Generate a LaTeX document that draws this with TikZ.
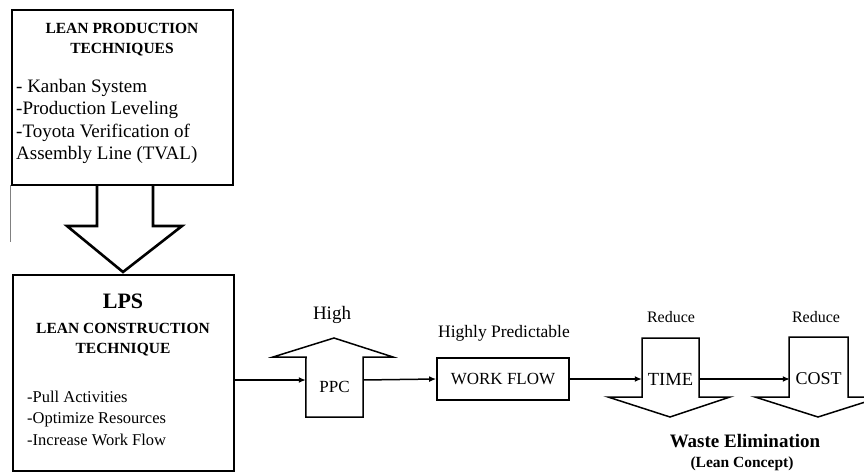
\documentclass[tikz,border=0pt]{standalone}
\usepackage{fontspec}
\setmainfont{Liberation Serif}
\usepackage{xcolor}
\usepackage{tikz}
\usetikzlibrary{arrows.meta,positioning}

\begin{document}
\begin{tikzpicture}[
  x=1pt, y=-1pt,
  bigbox/.style={draw, line width=2.6pt, inner sep=0pt},
  flowbox/.style={draw, line width=1.8pt, minimum width=132pt, minimum height=42pt,
    font=\fontsize{17}{19}\selectfont},
  shaftbox/.style={minimum width=57pt, inner sep=0pt, font=\fontsize{18.5}{20}\selectfont},
  bigarrow/.style={draw, line width=1.5pt, line join=miter},
  heading/.style={align=center, font=\bfseries\fontsize{15.5}{20}\selectfont},
  itemlist/.style={align=left, anchor=west, inner sep=0pt, font=\fontsize{16}{22}\selectfont},
  tag/.style={font=\fontsize{16}{18}\selectfont},
  arrow/.style={-{Latex[length=7pt,width=6pt]}, line width=1.5pt}
]
\useasboundingbox (0,0) rectangle (864,473);
\clip (0,0) rectangle (864,473);

% lean production box
\node (lpt) [bigbox, minimum width=221pt, minimum height=175pt] at (122.5,97.5) {};
\node (lpth) [heading] at (122,40) {LEAN PRODUCTION\\TECHNIQUES};
\node (lptl) [itemlist, font=\fontsize{19}{22.3}\selectfont] at (16,121.5)
  {- Kanban System\\-Production Leveling\\-Toyota Verification of\\Assembly Line (TVAL)};
\draw[gray, line width=1pt] (10,185) -- (10,242);

% LPS box
\node (lps) [bigbox, minimum width=221pt, minimum height=196pt] at (123.5,373) {};
\node (lpsn) [font=\bfseries\fontsize{22}{24}\selectfont] at (123,301) {LPS};
\node (lpsh) [heading] at (123,340) {LEAN CONSTRUCTION\\TECHNIQUE};
\node (lpsl) [itemlist, font=\fontsize{16.5}{21.5}\selectfont] at (27,418)
  {-Pull Activities\\-Optimize Resources\\-Increase Work Flow};

% big down arrow
\draw[bigarrow, line width=2.6pt] (97,185) -- (97,226) -- (67,226) -- (123,272)
  -- (182,226) -- (153,226) -- (153,185);

% PPC up arrow
\node (ppc) [shaftbox, minimum height=60pt, font=\fontsize{17}{19}\selectfont] at (334.5,387) {PPC};
\draw[bigarrow] (ppc.south west) -- (306,357) -- (273,357) -- (334,338)
  -- (393,357) -- (363,357) -- (ppc.south east) -- cycle;
\node (high) [tag, font=\fontsize{19}{21}\selectfont] at (332,315) {High};

% work flow
\node (wf) [flowbox] at (503,379) {WORK FLOW};
\node (pred) [tag, font=\fontsize{17.5}{19}\selectfont] at (504,333) {Highly Predictable};

% time and cost down arrows
\node (time) [shaftbox] at (670.5,379) {TIME};
\draw[bigarrow] (642,338) -- (642,397) -- (608,397) -- (670,417) -- (730,397)
  -- (699,397) -- (699,338) -- cycle;
\node (red1) [tag] at (671,317) {Reduce};

\node (cost) [shaftbox, font=\fontsize{18}{20}\selectfont] at (818.5,379) {COST};
\draw[bigarrow] (789,337) -- (789,397) -- (755,397) -- (818,417) -- (881,397)
  -- (848,397) -- (848,337) -- cycle;
\node (red2) [tag] at (816,317) {Reduce};

\node (waste) [font=\bfseries\fontsize{19}{21}\selectfont] at (745,441) {Waste Elimination};
\node (lean) [font=\bfseries\fontsize{15.5}{18}\selectfont] at (742,464) {(Lean Concept)};

% connectors
\draw[arrow] ([yshift=7pt]ppc.west -| lps.east) -- ([yshift=7pt]ppc.west);
\draw[arrow] ([yshift=7pt]ppc.east) -- (wf.west);
\draw[arrow] (wf.east) -- (time.west);
\draw[arrow] (time.east) -- (cost.west);
\end{tikzpicture}
\end{document}
